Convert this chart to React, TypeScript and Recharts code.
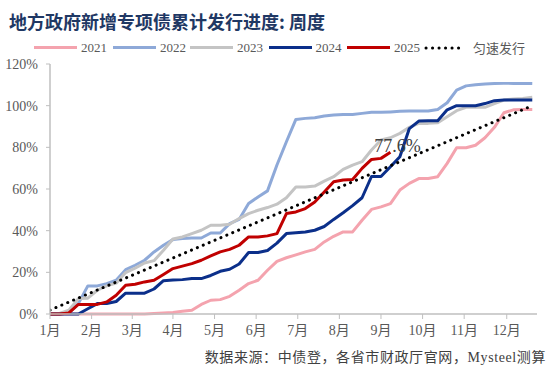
import React from 'react';
import { LineChart, Line, XAxis, YAxis } from 'recharts';

const weeks = [1,2,3,4,5,6,7,8,9,10,11,12,13,14,15,16,17,18,19,20,21,22,23,24,25,26,27,28,29,30,31,32,33,34,35,36,37,38,39,40,41,42,43,44,45,46,47,48,49,50,51,52];

const s2021 = [0,0,0,0,0,0,0,0,0,0,0,0.2,0.5,0.7,1.3,1.8,4.6,6.6,6.9,8.5,11.4,14.6,16.2,21,25.3,27,28.4,29.8,31,34.6,37.3,39.4,39.4,45,50.2,51.4,53,59.5,62.7,65,65,65.9,72.3,79.8,79.8,81,84.6,89.6,96.6,98,98.2,98.2];
const s2022 = [0,0,0.5,5,13.5,13.5,14.6,16.2,21.3,23.4,25.8,29.8,33,35.7,36.2,36.5,36.5,38.9,38.9,43.4,45.4,53,56.2,59.1,71.5,82.7,93.4,93.9,94.2,95,95.5,95.8,95.8,96.3,96.8,96.8,97,97.3,97.4,97.4,97.4,98.2,101.4,107.5,109.5,110,110.4,110.6,110.7,110.7,110.7,110.6];
const s2023 = [0,0.3,1.8,7.4,7.6,11.4,13.5,14.8,19.9,22,24.5,25.6,30.6,36,37,38.6,40.2,42.6,42.6,43.1,45.8,48.2,49.8,51.1,52.7,55.8,61,61,61.4,63.8,65.9,69.4,71.5,73.1,78.7,83.5,84.6,86.7,89.6,91.5,91.5,91.8,94.7,97.6,99.2,99.2,99.2,101,102.7,103.2,103.5,104];
const s2024 = [0,0,0,0,2.5,5,5,6,10,10,10,12,16,16.3,16.5,17,17,18.5,20.5,21.5,24,29.5,29.5,30.5,34,38.6,39,39.4,40.2,42,45.4,48.6,52,55.8,66,66,70.7,75.5,89,92.6,92.8,92.8,98,100,100,100,101,102.4,102.7,102.7,102.7,102.7];
const s2025 = [0,0,0.5,4.6,4.6,4.6,5.8,9,13.8,14.3,15.4,16.2,19,21.8,23,24.2,25.8,27.9,29.8,31,33,37,37,37.5,38.6,48.2,49,50.6,53.8,58.6,63.5,64.3,64.6,69.9,74.2,74.7,77.6];
// 匀速发行: straight line, start and end values
const uniformWeeks = [1, 52];
const uniformValues = [1.9, 100];

const monthTicks = [1, 5.4, 9.7, 14, 18.4, 22.8, 27.2, 31.6, 36, 40.4, 44.8, 49.3];
const monthLabels = ['1月','2月','3月','4月','5月','6月','7月','8月','9月','10月','11月','12月'];
const yTicks = [0, 20, 40, 60, 80, 100, 120];

const seriesNames = ['2021', '2022', '2023', '2024', '2025'];
const seriesColors = ['#F4A3AE', '#8EA9D8', '#C4C4C4', '#0B2F8A', '#C00000'];
const uniformName = '匀速发行';

const data = weeks.map((w, i) => {
  const row: any = { week: w, y2021: s2021[i], y2022: s2022[i], y2023: s2023[i], y2024: s2024[i] };
  if (i < s2025.length) row.y2025 = s2025[i];
  const u = uniformWeeks.indexOf(w);
  if (u >= 0) row.uniform = uniformValues[u];
  return row;
});

const serif = "'Liberation Serif', 'Noto Sans CJK SC', serif";
const cjk = "'Noto Sans CJK SC', sans-serif";
const textGray = '#595959';

const lastLabel = (props: any) => {
  const { x, y, index } = props;
  if (index !== s2025.length - 1) return <g />;
  return (
    <text x={x + 7} y={y} textAnchor="middle" fontFamily={serif} fontSize={18} fill="#404040">
      {s2025[s2025.length - 1]}%
    </text>
  );
};

export default function App() {
  const legendLefts = [34, 113, 190, 268.5, 347];
  return (
    <div style={{ position: 'absolute', left: 0, top: 0, width: 550, height: 370, background: '#fff' }}>
      <div style={{ position: 'absolute', left: 9, top: 11, fontFamily: cjk, fontSize: 18, fontWeight: 700, color: '#1F3864', lineHeight: '20px', whiteSpace: 'nowrap' }}>
        地方政府新增专项债累计发行进度: 周度
      </div>
      {seriesNames.map((n, i) => (
        <div key={n} style={{ position: 'absolute', left: legendLefts[i], top: 38.5, height: 18, display: 'flex', alignItems: 'center' }}>
          <div style={{ width: 43, height: 2.5, background: seriesColors[i] }} />
          <span style={{ marginLeft: 4, fontFamily: serif, fontSize: 13, color: textGray }}>{n}</span>
        </div>
      ))}
      <div style={{ position: 'absolute', left: 424, top: 38.5, height: 18, display: 'flex', alignItems: 'center' }}>
        <svg width={42} height={6}>
          <line x1={2} y1={3} x2={41} y2={3} stroke="#000" strokeWidth={3} strokeLinecap="round" strokeDasharray="0.1 6.4" />
        </svg>
        <span style={{ marginLeft: 7, fontFamily: cjk, fontSize: 13, color: textGray }}>{uniformName}</span>
      </div>
      <div style={{ position: 'absolute', left: 0, top: 0 }}>
        <LineChart width={550} height={370} data={data} margin={{ top: 64, right: 13, bottom: 26, left: 0 }}>
          <XAxis
            dataKey="week"
            type="number"
            domain={[1, 52.5]}
            ticks={monthTicks}
            tickFormatter={(v: number) => monthLabels[monthTicks.indexOf(v)] ?? ''}
            height={30}
            axisLine={{ stroke: '#BFBFBF', strokeWidth: 1.5 }}
            tickLine={{ stroke: '#BFBFBF' }}
            tickSize={5}
            tickMargin={6}
            interval={0}
            tick={{ fill: textGray, fontSize: 14, fontFamily: serif }}
            allowDataOverflow
          />
          <YAxis
            type="number"
            domain={[0, 120]}
            ticks={yTicks}
            tickFormatter={(v: number) => `${v}%`}
            width={50}
            axisLine={{ stroke: '#BFBFBF', strokeWidth: 1.5 }}
            tickLine={{ stroke: '#BFBFBF' }}
            tickSize={4}
            tickMargin={8}
            interval={0}
            tick={{ fill: textGray, fontSize: 14, fontFamily: serif }}
          />
          <Line dataKey="y2021" stroke={seriesColors[0]} strokeWidth={3} dot={false} isAnimationActive={false} strokeLinejoin="round" />
          <Line dataKey="y2022" stroke={seriesColors[1]} strokeWidth={3} dot={false} isAnimationActive={false} strokeLinejoin="round" />
          <Line dataKey="y2023" stroke={seriesColors[2]} strokeWidth={3} dot={false} isAnimationActive={false} strokeLinejoin="round" />
          <Line dataKey="y2024" stroke={seriesColors[3]} strokeWidth={3} dot={false} isAnimationActive={false} strokeLinejoin="round" />
          <Line dataKey="y2025" stroke={seriesColors[4]} strokeWidth={3} dot={false} isAnimationActive={false} strokeLinejoin="round" label={lastLabel} />
          <Line dataKey="uniform" stroke="#000" strokeWidth={3} dot={false} isAnimationActive={false} connectNulls strokeLinecap="round" strokeDasharray="0.1 6.3" />
        </LineChart>
      </div>
      <div style={{ position: 'absolute', right: 4, top: 349, fontFamily: "'Liberation Serif', 'Noto Sans CJK SC', serif", fontSize: 14, color: '#404040', letterSpacing: 0.6, whiteSpace: 'nowrap', lineHeight: '18px' }}>
        数据来源：中债登，各省市财政厅官网，Mysteel测算
      </div>
    </div>
  );
}
